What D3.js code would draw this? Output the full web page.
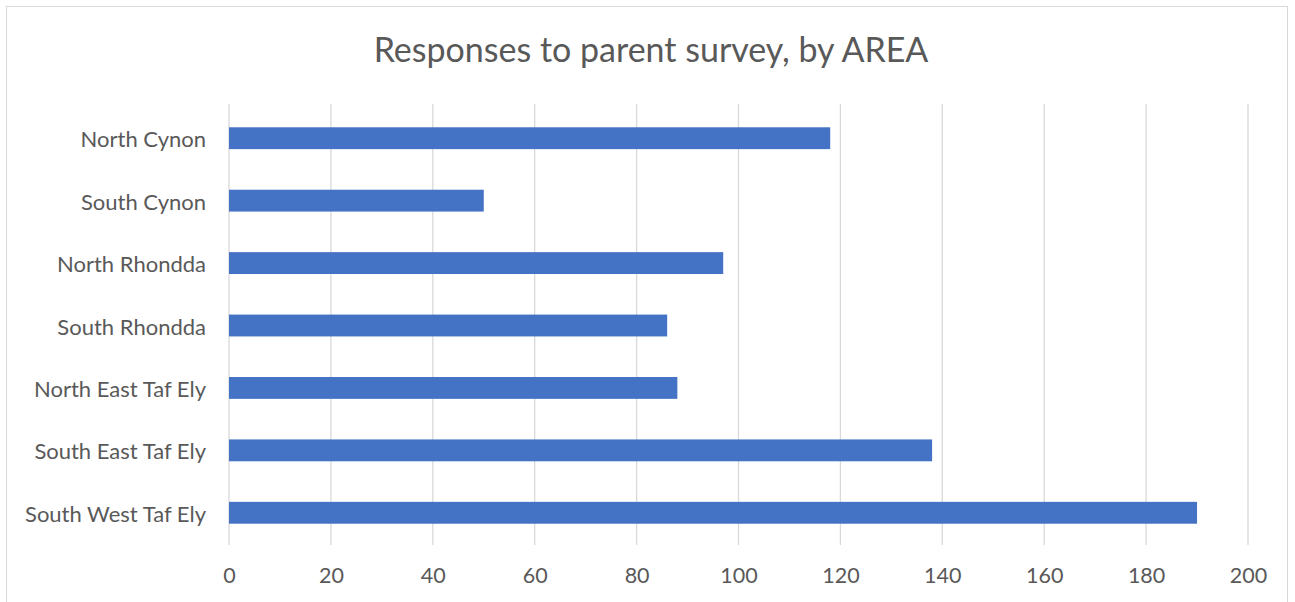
<!DOCTYPE html>
<html>
<head>
<meta charset="utf-8">
<script src="https://cdn.jsdelivr.net/npm/d3@7"></script>
<style>
  body { margin: 0; background: #fff; }
  text { font-family: Lato, "Open Sans", sans-serif; fill: #595959; }
</style>
</head>
<body>
<div id="container"></div>
<script>
/* CONSTANTS AND GLOBALS */
const width = 1295,
  height = 602,
  margin = { top: 107, bottom: 58, left: 229, right: 47 };

// data
const areas = ["North Cynon", "South Cynon", "North Rhondda", "South Rhondda",
  "North East Taf Ely", "South East Taf Ely", "South West Taf Ely"];
const responses = [118, 50, 97, 86, 88, 138, 190];
const xTicks = [0, 20, 40, 60, 80, 100, 120, 140, 160, 180, 200];
const title = "Responses to parent survey, by AREA";

const svg = d3.select("#container")
  .append("svg")
  .attr("width", width)
  .attr("height", height);

// chart frame
svg.append("rect")
  .attr("x", 6.5).attr("y", 6.5)
  .attr("width", 1281).attr("height", 610)
  .attr("fill", "#fff")
  .attr("stroke", "#d9d9d9");

// SCALES
const xScale = d3.scaleLinear()
  .domain([0, 200])
  .range([margin.left, width - margin.right]);

const yScale = d3.scaleBand()
  .domain(areas)
  .range([margin.top, height - margin.bottom])
  .paddingInner(0.65)
  .paddingOuter(0.325);

// gridlines
svg.append("g")
  .selectAll("line")
  .data(xTicks)
  .join("line")
  .attr("x1", d => xScale(d)).attr("x2", d => xScale(d))
  .attr("y1", 104).attr("y2", 545)
  .attr("stroke", "#d9d9d9")
  .attr("stroke-width", 1.3);

// bars
svg.append("g")
  .selectAll("rect")
  .data(areas)
  .join("rect")
  .attr("x", xScale(0))
  .attr("y", d => yScale(d))
  .attr("width", (d, i) => xScale(responses[i]) - xScale(0))
  .attr("height", yScale.bandwidth())
  .attr("fill", "#4472c4");

// AXES
const xAxis = d3.axisBottom(xScale).tickValues(xTicks).tickSize(0);
svg.append("g")
  .attr("transform", `translate(0,545)`)
  .call(xAxis)
  .call(g => g.select(".domain").remove())
  .selectAll("text")
  .attr("dy", null)
  .attr("y", 38)
  .style("font-size", "21.5px")
  .attr("fill", "#595959");

const yAxis = d3.axisLeft(yScale).tickSize(0).tickPadding(23);
svg.append("g")
  .attr("transform", `translate(${margin.left},2)`)
  .call(yAxis)
  .call(g => g.select(".domain").remove())
  .selectAll("text")
  .style("font-size", "22px")
  .attr("fill", "#595959");

// title
svg.append("text")
  .attr("x", 651)
  .attr("y", 62)
  .attr("text-anchor", "middle")
  .style("font-size", "34px")
  .text(title);
</script>
</body>
</html>
